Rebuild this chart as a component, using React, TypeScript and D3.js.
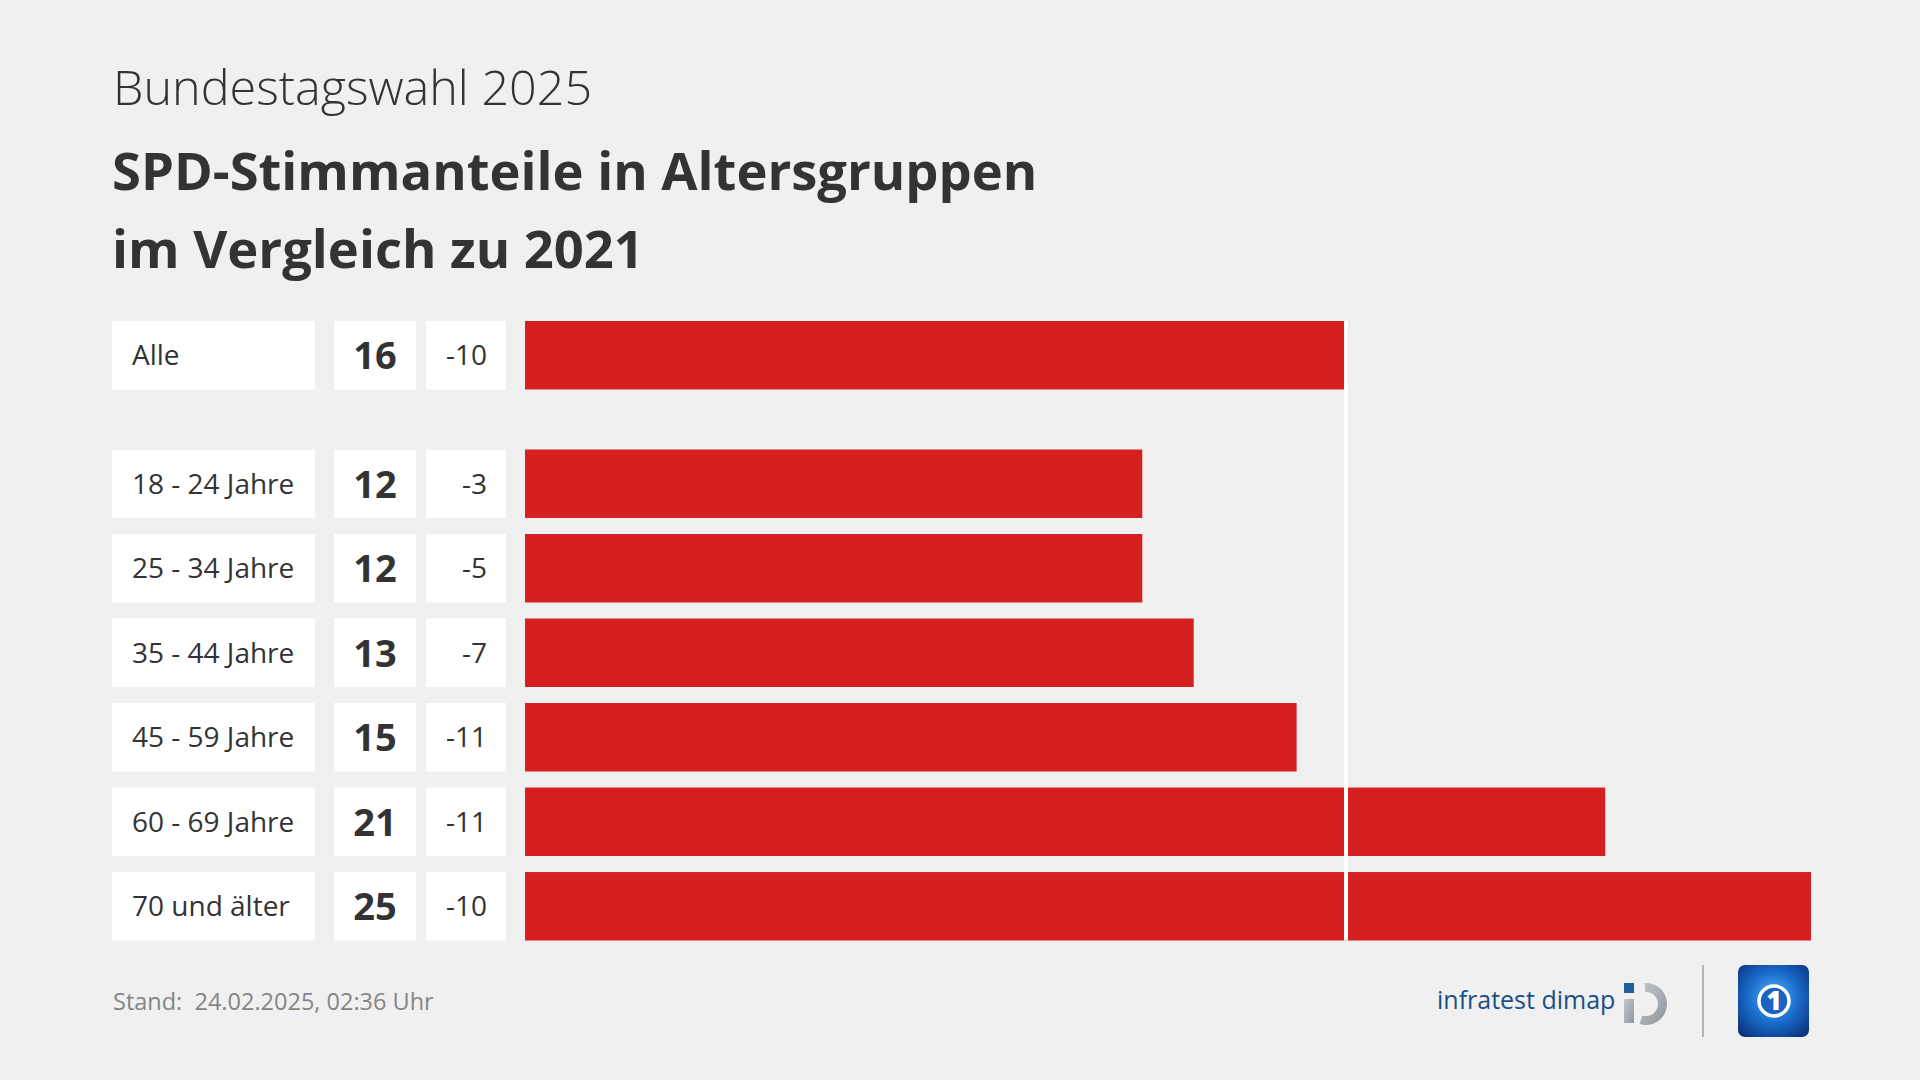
import * as d3 from "d3";

// Werte aus der Grafik
const groups = [
  "Alle",
  "18 - 24 Jahre",
  "25 - 34 Jahre",
  "35 - 44 Jahre",
  "45 - 59 Jahre",
  "60 - 69 Jahre",
  "70 und älter",
];
const shares = [16, 12, 12, 13, 15, 21, 25];
const changes = [-10, -3, -5, -7, -11, -11, -10];
const axisMax = 25;
const referenceValue = 16;

const WIDTH = 1920;
const HEIGHT = 1080;
const FONT = "'Open Sans', sans-serif";
const RED = "#d61f1f";
const TEXT = "#333333";

export default function App() {
  const rows = groups.map((g, i) => ({ group: g, share: shares[i], change: changes[i] }));

  const y = d3.scaleBand<string>().domain(groups).range([321, 896.5]).paddingInner(0.19).paddingOuter(0);
  const gapAfterAll = 44;
  const rowY = (g: string) => (y(g) ?? 0) + (g === "Alle" ? 0 : gapAfterAll);
  const bh = y.bandwidth();

  const x = d3.scaleLinear().domain([0, axisMax]).range([525, 1811]);

  const lastRow = groups[groups.length - 1];
  const gridTop = rowY(groups[0]);
  const gridBottom = rowY(lastRow) + bh;

  // infratest dimap Ring
  const ring = d3.arc()({
    innerRadius: 12,
    outerRadius: 21,
    startAngle: -0.02 * Math.PI,
    endAngle: 1.1 * Math.PI,
  } as any) as string;

  return (
    <svg
      width={WIDTH}
      height={HEIGHT}
      style={{ position: "absolute", left: 0, top: 0, fontFamily: FONT }}
    >
      <defs>
        <radialGradient id="ardBg" cx="0.5" cy="0.45" r="0.7">
          <stop offset="0%" stopColor="#5cb4f2" />
          <stop offset="50%" stopColor="#1a6ccc" />
          <stop offset="100%" stopColor="#0a2f78" />
        </radialGradient>
        <linearGradient id="idGrey" x1="0" y1="0" x2="1" y2="1">
          <stop offset="0%" stopColor="#c3c7cb" />
          <stop offset="100%" stopColor="#8e959c" />
        </linearGradient>
      </defs>
      <rect width={WIDTH} height={HEIGHT} fill="#f0f0f0" />

      <text x={113} y={105} fontSize={48.5} fontWeight={300} fill={TEXT}>
        Bundestagswahl 2025
      </text>
      <text x={112} y={190} fontSize={52.5} fontWeight={700} fill={TEXT}>
        SPD-Stimmanteile in Altersgruppen
      </text>
      <text x={112} y={268} fontSize={52.5} fontWeight={700} fill={TEXT}>
        im Vergleich zu 2021
      </text>

      {rows.map((d) => {
        const top = rowY(d.group);
        const cy = top + bh / 2;
        return (
          <g key={d.group}>
            <rect x={112} y={top} width={203} height={bh} fill="#ffffff" />
            <rect x={334} y={top} width={82} height={bh} fill="#ffffff" />
            <rect x={426} y={top} width={80} height={bh} fill="#ffffff" />
            <text x={132} y={cy + 10} fontSize={28} fill={TEXT}>
              {d.group}
            </text>
            <text x={375} y={cy + 14} fontSize={38} fontWeight={700} fill={TEXT} textAnchor="middle">
              {d.share}
            </text>
            <text x={487} y={cy + 10} fontSize={28} fill={TEXT} textAnchor="end">
              {d.change}
            </text>
            <rect x={x(0)} y={top} width={x(d.share) - x(0)} height={bh} fill={RED} />
          </g>
        );
      })}

      <rect
        x={x(referenceValue) - 4}
        y={gridTop}
        width={4}
        height={gridBottom - gridTop}
        fill="#ffffff"
      />

      <text x={113} y={1010} fontSize={23.5} fill="#858585" style={{ whiteSpace: "pre" }}>
        {"Stand:  24.02.2025, 02:36 Uhr"}
      </text>

      {/* infratest dimap */}
      <text x={1437} y={1009} fontSize={25} fontWeight={500} fill="#1b4f87">
        infratest dimap
      </text>
      <g transform="translate(1646,1004)">
        <path d={ring} fill="url(#idGrey)" />
        <rect x={-22} y={-21} width={10} height={10} fill="#1f5f9e" />
        <rect x={-22} y={-5} width={10} height={24} fill="url(#idGrey)" />
      </g>
      <line x1={1703} x2={1703} y1={965} y2={1037} stroke="#b5b5b5" strokeWidth={2} />

      {/* ARD Tagesschau */}
      <rect x={1738} y={965} width={71} height={72} rx={7} fill="url(#ardBg)" />
      <circle cx={1774} cy={1001} r={15} fill="#1a63c2" stroke="#ffffff" strokeWidth={3.5} />
      <text x={1774} y={1010} fontSize={26} fontWeight={800} fill="#ffffff" textAnchor="middle">
        1
      </text>
    </svg>
  );
}
